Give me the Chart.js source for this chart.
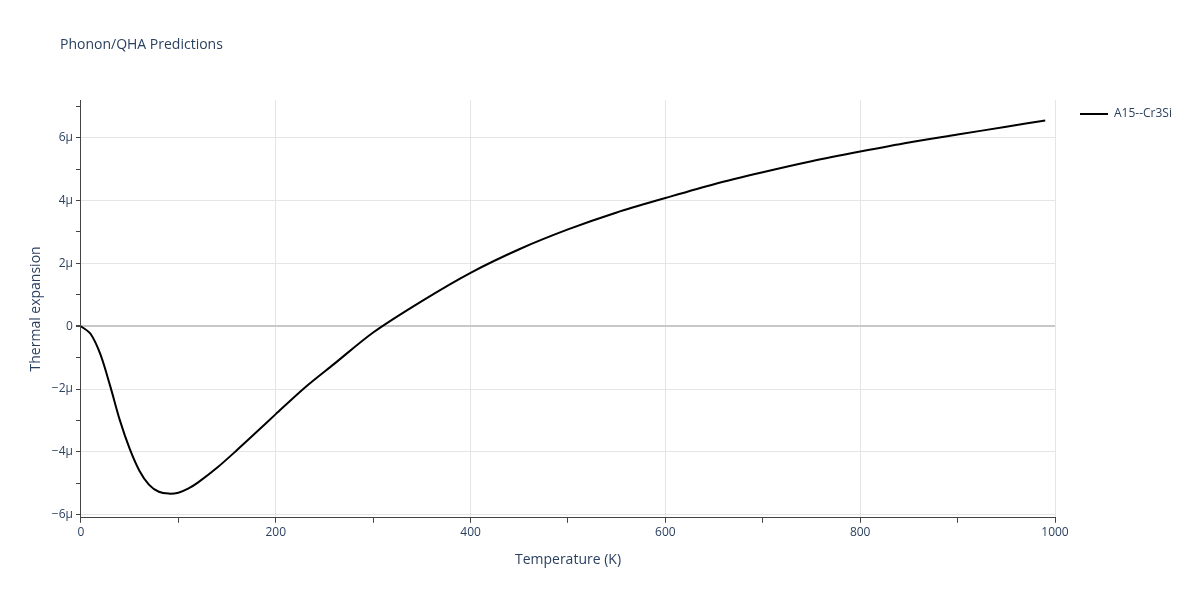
<!DOCTYPE html>
<html><head><meta charset="utf-8">
<script src="https://cdn.jsdelivr.net/npm/chart.js@4"></script>
<style>body{margin:0;background:#fff}#w{width:1200px;height:600px}</style>
</head><body><div id="w"><canvas id="c"></canvas></div>
<script>
const temps=[0,10,20,30,40,50,60,70,80,90,100,110,120,140,160,180,200,230,260,300,350,400,450,500,550,600,650,700,750,800,850,900,950,990];
const expansion=[0,-0.25,-0.9,-1.9,-3.0,-3.9,-4.6,-5.05,-5.27,-5.33,-5.3,-5.17,-4.98,-4.5,-3.95,-3.38,-2.8,-1.95,-1.2,-0.2,0.8,1.7,2.45,3.08,3.62,4.08,4.52,4.9,5.25,5.56,5.85,6.1,6.35,6.55];
const seriesName='A15--Cr3Si';
const titleText='Phonon/QHA Predictions';
const font='"Open Sans", "Liberation Sans", sans-serif';
const deco={id:'deco',afterDraw(ch){const c=ch.ctx;c.save();c.font='14px '+font;c.fillStyle='#2a3f5f';c.textBaseline='middle';c.fillText(titleText,60,45);
c.strokeStyle='#000';c.lineWidth=2;c.beginPath();c.moveTo(1080,114);c.lineTo(1108,114);c.stroke();
c.font='12px '+font;c.fillStyle='#2a3f5f';c.fillText(seriesName,1114,114);c.restore();}};
new Chart(document.getElementById('c'),{type:'line',
data:{labels:temps,datasets:[{label:seriesName,data:temps.map((t,i)=>({x:t,y:expansion[i]})),borderColor:'#000',borderWidth:2,pointRadius:0,tension:0.3,fill:false}]},
options:{responsive:true,maintainAspectRatio:false,animation:false,
layout:{padding:{left:24,right:145,top:100,bottom:28}},
plugins:{legend:{display:false},tooltip:{enabled:false}},
scales:{
x:{type:'linear',min:0,max:1000,
ticks:{stepSize:100,color:'#2a3f5f',font:{family:font,size:12},callback:v=>v%200===0?v:''},
grid:{color:c=>c.tick&&c.tick.value%200===0&&c.tick.value!==0?'#e5e5e5':'rgba(0,0,0,0)',tickColor:'#444',tickLength:5,drawTicks:true},
border:{display:true,color:'#444'},
title:{display:true,text:'Temperature (K)',color:'#2a3f5f',font:{family:font,size:14},padding:{top:8}}},
y:{type:'linear',min:-6.1,max:7.2,afterBuildTicks:a=>{const t=[];for(let v=-6;v<=7;v++)t.push({value:v});a.ticks=t;},
ticks:{color:'#2a3f5f',font:{family:font,size:12},callback:v=>v%2!==0?'':(v===0?'0':(v<0?'−'+(-v):v)+'μ')},
grid:{color:c=>{const v=c.tick&&c.tick.value;if(v===0)return '#c8c8c8';return v%2===0?'#e5e5e5':'rgba(0,0,0,0)';},lineWidth:c=>c.tick&&c.tick.value===0?2:1,tickColor:'#444',tickLength:5},
border:{display:true,color:'#444'},
title:{display:true,text:'Thermal expansion',color:'#2a3f5f',font:{family:font,size:14}}}}},
plugins:[deco]});
</script></body></html>
